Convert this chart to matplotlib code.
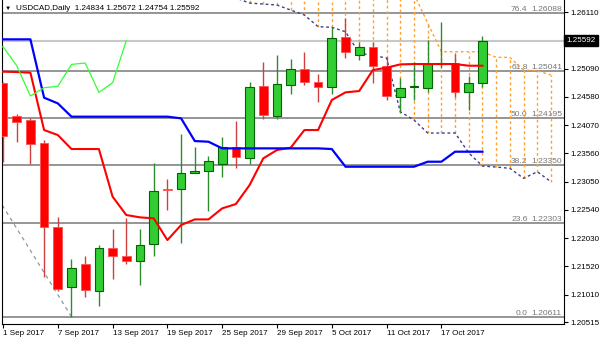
import numpy as np
import matplotlib.pyplot as plt

plt.rcParams['font.family'] = ['Liberation Sans', 'DejaVu Sans']

# daily bars, 1 Sep .. 20 Oct 2017
dates = ["1 Sep 2017", "4 Sep 2017", "5 Sep 2017", "6 Sep 2017", "7 Sep 2017", "8 Sep 2017",
         "11 Sep 2017", "12 Sep 2017", "13 Sep 2017", "14 Sep 2017", "15 Sep 2017",
         "18 Sep 2017", "19 Sep 2017", "20 Sep 2017", "21 Sep 2017", "22 Sep 2017",
         "25 Sep 2017", "26 Sep 2017", "27 Sep 2017", "28 Sep 2017", "29 Sep 2017",
         "2 Oct 2017", "3 Oct 2017", "4 Oct 2017", "5 Oct 2017", "6 Oct 2017",
         "9 Oct 2017", "10 Oct 2017", "11 Oct 2017", "12 Oct 2017", "13 Oct 2017",
         "16 Oct 2017", "17 Oct 2017", "18 Oct 2017", "19 Oct 2017", "20 Oct 2017"]

opens = [1.24822, 1.24239, 1.24154, 1.23739, 1.22235, 1.21152, 1.21561, 1.21074, 1.21850,
         1.21712, 1.21621, 1.21928, 1.22915, 1.22909, 1.23210, 1.23246, 1.23360, 1.23679,
         1.23469, 1.24774, 1.24239, 1.24792, 1.25081, 1.24846, 1.24750, 1.25653, 1.25328,
         1.25484, 1.25141, 1.24570, 1.24756, 1.24732, 1.25177, 1.25183, 1.24660, 1.24834]
highs = [1.24853, 1.24275, 1.24191, 1.23800, 1.22410, 1.21652, 1.21706, 1.21904, 1.22193,
         1.22398, 1.22193, 1.23384, 1.23102, 1.23908, 1.23679, 1.23517, 1.23860, 1.24142,
         1.24840, 1.25202, 1.25334, 1.25262, 1.25394, 1.24991, 1.25845, 1.25996, 1.25575,
         1.25563, 1.25304, 1.24925, 1.25202, 1.25605, 1.25924, 1.25346, 1.24961, 1.25672]
lows = [1.23408, 1.23757, 1.23360, 1.21333, 1.21074, 1.20611, 1.20959, 1.20809, 1.21291,
        1.21555, 1.21182, 1.21712, 1.22536, 1.21934, 1.23198, 1.22524, 1.23126, 1.23300,
        1.23360, 1.24173, 1.24173, 1.24630, 1.24792, 1.24492, 1.24624, 1.25274, 1.25244,
        1.24834, 1.24522, 1.24281, 1.24522, 1.24660, 1.25105, 1.24582, 1.24341, 1.24754]
closes = [1.23878, 1.24118, 1.23733, 1.22235, 1.21111, 1.21495, 1.21092, 1.21844, 1.21712,
          1.21615, 1.21904, 1.22885, 1.22891, 1.23210, 1.23246, 1.23420, 1.23667, 1.23493,
          1.24756, 1.24251, 1.24816, 1.25081, 1.24853, 1.24750, 1.25647, 1.25394, 1.25484,
          1.25141, 1.24594, 1.24744, 1.24768, 1.25165, 1.25189, 1.24660, 1.24834, 1.25592]

# ichimoku lines
tenkan = [1.25033, 1.25027, 1.25015, 1.23980, 1.23890, 1.23637, 1.23637, 1.23637, 1.22777,
          1.22446, 1.22404, 1.22386, 1.21994, 1.22265, 1.22367, 1.22367, 1.22566, 1.22644,
          1.22987, 1.23469, 1.23619, 1.23661, 1.23980, 1.23980, 1.24522, 1.24660, 1.24684,
          1.25063, 1.25105, 1.25165, 1.25171, 1.25171, 1.25171, 1.25171, 1.25141, 1.25141]
kijun = [1.25617, 1.25617, 1.25617, 1.24564, 1.24461, 1.24221, 1.24221, 1.24221, 1.24221,
         1.24221, 1.24221, 1.24221, 1.24221, 1.24191, 1.23781, 1.23769, 1.23649, 1.23649,
         1.23649, 1.23649, 1.23649, 1.23649, 1.23649, 1.23649, 1.23637, 1.23318, 1.23318,
         1.23318, 1.23318, 1.23318, 1.23318, 1.23408, 1.23408, 1.23589, 1.23589, 1.23589]
# senkou spans, bars 17 .. 40 (shifted forward)
span_start = 17
span_a = [1.2700, 1.2700, 1.2700, 1.2700, 1.2700, 1.2700, 1.2700, 1.2700, 1.2700, 1.2700,
          1.2690, 1.2680, 1.2670, 1.26435, 1.25911, 1.25393, 1.25393, 1.25393, 1.25393,
          1.25292, 1.25292, 1.25063, 1.25050, 1.24973]
span_b = [1.26363, 1.26272, 1.26254, 1.26236, 1.26146, 1.26056, 1.25845, 1.25834, 1.25754,
          1.25370, 1.25325, 1.25280, 1.24310, 1.24161, 1.23926, 1.23926, 1.23926, 1.23565,
          1.23330, 1.23312, 1.23289, 1.23108, 1.23227, 1.23047]

fib_pct = ["76.4", "61.8", "50.0", "38.2", "23.6", "0.0"]
fib_lvl = [1.26088, 1.25041, 1.24195, 1.23350, 1.22303, 1.20611]

ytick_vals = [1.26110, 1.25090, 1.24580, 1.24070, 1.23560, 1.23050, 1.22540, 1.22030,
              1.21520, 1.21010, 1.20515]
last_price = 1.25592

fig = plt.figure(figsize=(6, 3.43), dpi=100)
ax = fig.add_axes([1.7 / 600, 19.5 / 343, 562.3 / 600, 323.5 / 343])

x = np.arange(len(closes))
o = np.array(opens); c = np.array(closes); h = np.array(highs); l = np.array(lows)
up = c >= o

# fibonacci levels + current price line
for lvl, pct in zip(fib_lvl, fib_pct):
    ax.axhline(lvl, color="#8c8c8c", lw=1.3, zorder=1)
    ax.text(38.3, lvl, pct, ha="right", va="bottom", fontsize=6.1, color="#767676", zorder=2)
    ax.text(40.8, lvl, "%.5f" % lvl, ha="right", va="bottom", fontsize=6.1, color="#767676", zorder=2)
ax.axhline(last_price, color="#c8c8c8", lw=1.5, zorder=1)
# fibo diagonal
ax.plot([5, -13], [fib_lvl[-1], 1.2778], color="#8a98a8", lw=0.9, ls=(0, (3, 3)), zorder=2)

# cloud
sx = np.arange(span_start, span_start + len(span_a))
ax.vlines(sx, span_b, span_a, colors="#ffa030", lw=1.0, linestyles=(0, (2, 2)), zorder=2)
ax.plot(sx, span_a, color="#ffa030", lw=1.0, ls=(0, (2, 2)), zorder=2)
ax.plot(sx, span_b, color="#40408a", lw=1.0, ls=(0, (2, 2)), zorder=2)

# candles
body_w = 0.64
ax.vlines(x[up], l[up], h[up], colors="#2e8b2e", lw=1.0, zorder=3)
ax.vlines(x[~up], l[~up], h[~up], colors="#d04040", lw=1.0, zorder=3)
hgt = np.maximum(np.abs(c - o), 0.00003)
bot = np.minimum(o, c)
ax.bar(x[up], hgt[up], body_w, bottom=bot[up], color="#32cd32", edgecolor="#006400", lw=0.8, zorder=4)
ax.bar(x[~up], hgt[~up], body_w, bottom=bot[~up], color="#ff0000", edgecolor="#ff5050", lw=0.6, zorder=4)

# tenkan, kijun, chikou
ax.plot(x, tenkan, color="#ff0000", lw=1.5, zorder=5)
ax.plot(x, kijun, color="#0000ff", lw=1.6, zorder=5)
ax.plot(x[25:] - 26, closes[25:], color="#33ff33", lw=0.9, zorder=5)

ax.set_xlim(-0.095, 40.95)
ax.set_ylim(1.20488, 1.26327)

ax.yaxis.tick_right()
ax.set_yticks(ytick_vals)
ax.set_yticklabels(["%.5f" % v for v in ytick_vals])
ax.set_xticks(x[::4])
ax.set_xticklabels(dates[::4], ha="left")
ax.tick_params(axis="both", labelsize=5.8, length=3, width=0.8, pad=1.5, colors="black")
ax.spines["top"].set_visible(False)
for s in ["left", "bottom", "right"]:
    ax.spines[s].set_linewidth(0.8)

ax.text(1.004, last_price, "%.5f" % last_price, transform=ax.get_yaxis_transform(),
        ha="left", va="center", fontsize=5.8, color="white",
        bbox=dict(boxstyle="square,pad=0.25", fc="black", ec="black"))

fig.text(5 / 600, 1 - 8 / 343, "\u25bc", fontsize=4.5, va="center", ha="left")
fig.text(16 / 600, 1 - 8 / 343, "USDCAD,Daily  1.24834 1.25672 1.24754 1.25592",
         fontsize=5.9, va="center", ha="left")

plt.savefig("out.png", dpi=100)
